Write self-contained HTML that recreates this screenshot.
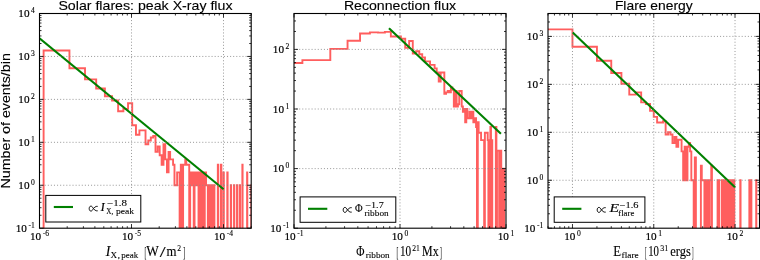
<!DOCTYPE html>
<html><head><meta charset="utf-8"><style>
html,body{margin:0;padding:0;background:#fff;width:760px;height:260px;overflow:hidden}
svg{display:block;will-change:transform}
</style></head><body>
<svg width="760" height="260" viewBox="0 0 760 260">
<rect width="760" height="260" fill="#fff"/>
<clipPath id="c1"><rect x="39.50" y="13.50" width="211.70" height="214.70"/></clipPath>
<path d="M43.61 248.20L43.61 50.51L69.44 50.51L69.44 68.28L85.01 68.28L85.01 79.40L96.18 79.40L96.18 88.52L104.90 88.52L104.90 96.29L112.05 96.29L112.05 100.53L118.12 100.53L118.12 111.22L123.38 111.22L123.38 108.91L128.03 108.91L128.03 103.31L132.20 103.31L132.20 125.23L135.97 125.23L135.97 134.76L139.42 134.76L139.42 130.35L142.59 130.35L142.59 130.35L145.53 130.35L145.53 144.28L148.27 144.28L148.27 140.54L150.83 140.54L150.83 137.43L153.24 137.43L153.24 136.05L155.51 136.05L155.51 151.85L157.66 151.85L157.66 146.48L159.69 146.48L159.69 155.25L161.63 155.25L161.63 164.77L163.48 164.77L163.48 144.28L165.25 144.28L165.25 159.41L166.95 159.41L166.95 172.33L168.57 172.33L168.57 151.85L170.13 151.85L170.13 159.41L171.63 159.41L171.63 159.41L173.08 159.41L173.08 164.77L174.48 164.77L174.48 185.26L175.83 185.26L175.83 185.26L177.13 185.26L177.13 172.33L178.40 172.33L178.40 172.33L179.62 172.33L179.62 248.20L180.81 248.20L180.81 164.77L181.97 164.77L181.97 248.20L183.09 248.20L183.09 164.77L184.18 164.77L184.18 164.77L185.25 164.77L185.25 159.41L186.28 159.41L186.28 164.77L187.29 164.77L187.29 164.77L188.27 164.77L188.27 164.77L189.23 164.77L189.23 248.20L190.17 248.20L190.17 172.33L191.09 172.33L191.09 185.26L191.98 185.26L191.98 172.33L192.86 172.33L192.86 172.33L193.72 172.33L193.72 248.20L194.56 248.20L194.56 172.33L195.38 172.33L195.38 172.33L196.19 172.33L196.19 185.26L196.97 185.26L196.97 172.33L197.75 172.33L197.75 172.33L198.51 172.33L198.51 248.20L199.25 248.20L199.25 172.33L199.99 172.33L199.99 248.20L200.70 248.20L200.70 172.33L201.41 172.33L201.41 248.20L202.10 248.20L202.10 172.33L202.79 172.33L202.79 248.20L203.46 248.20L203.46 172.33L204.12 172.33L204.12 248.20L204.76 248.20L204.76 172.33L205.40 172.33L205.40 172.33L206.03 172.33L206.03 185.26L206.65 185.26L206.65 185.26L207.26 185.26L207.26 185.26L207.86 185.26L207.86 248.20L208.45 248.20L208.45 185.26L209.03 185.26L209.03 248.20L209.61 248.20L209.61 185.26L210.17 185.26L210.17 248.20L210.73 248.20L210.73 185.26L211.28 185.26L211.28 248.20L211.82 248.20L211.82 185.26L212.36 185.26L212.36 248.20L212.89 248.20L212.89 185.26L213.41 185.26L213.41 248.20L213.92 248.20L213.92 185.26L214.43 185.26L214.43 248.20L214.93 248.20L214.93 248.20L215.43 248.20L215.43 248.20L215.92 248.20L215.92 248.20L216.40 248.20L216.40 248.20L216.88 248.20L216.88 248.20L217.35 248.20L217.35 248.20L217.82 248.20L217.82 164.77L218.28 164.77L218.28 248.20L218.74 248.20L218.74 248.20L219.19 248.20L219.19 248.20L219.63 248.20L219.63 248.20L220.08 248.20L220.08 248.20L220.51 248.20L220.51 248.20L220.94 248.20L220.94 164.77L221.37 164.77L221.37 248.20L221.79 248.20L221.79 248.20L222.21 248.20L222.21 248.20L222.62 248.20L222.62 248.20L223.03 248.20L223.03 248.20L223.44 248.20L223.44 172.33L223.84 172.33L223.84 248.20L224.24 248.20L224.24 248.20L224.63 248.20L224.63 248.20L225.02 248.20L225.02 248.20L225.41 248.20L225.41 248.20L225.79 248.20L225.79 248.20L226.17 248.20L226.17 248.20L226.54 248.20L226.54 248.20L226.91 248.20L226.91 248.20L227.28 248.20L227.28 172.33L227.64 172.33L227.64 248.20L228.01 248.20L228.01 248.20L228.36 248.20L228.36 248.20L228.72 248.20L228.72 248.20L229.07 248.20L229.07 248.20L229.42 248.20L229.42 248.20L229.76 248.20L229.76 248.20L230.11 248.20L230.11 248.20L230.45 248.20L230.45 248.20L230.78 248.20L230.78 185.26L231.12 185.26L231.12 248.20L231.45 248.20L231.45 248.20L231.78 248.20L231.78 248.20L232.10 248.20L232.10 248.20L232.43 248.20L232.43 248.20L232.75 248.20L232.75 248.20L233.07 248.20L233.07 248.20L233.38 248.20L233.38 248.20L233.69 248.20L233.69 248.20L234.01 248.20L234.01 185.26L234.31 185.26L234.31 248.20L234.62 248.20L234.62 248.20L234.92 248.20L234.92 248.20L235.22 248.20L235.22 248.20L235.52 248.20L235.52 248.20L235.82 248.20L235.82 248.20L236.11 248.20L236.11 248.20L236.41 248.20L236.41 248.20L236.70 248.20L236.70 248.20L236.99 248.20L236.99 185.26L237.27 185.26L237.27 248.20L237.56 248.20L237.56 248.20L237.84 248.20L237.84 248.20L238.12 248.20L238.12 248.20L238.40 248.20L238.40 248.20L238.67 248.20L238.67 248.20L238.95 248.20L238.95 248.20L239.22 248.20L239.22 248.20L239.49 248.20L239.49 248.20L239.76 248.20L239.76 185.26L240.03 185.26L240.03 248.20L240.29 248.20L240.29 248.20L240.56 248.20L240.56 248.20L240.82 248.20L240.82 248.20L241.08 248.20L241.08 248.20L241.34 248.20L241.34 248.20L241.59 248.20L241.59 248.20L241.85 248.20L241.85 248.20L242.10 248.20L242.10 248.20L242.35 248.20L242.35 164.77L242.60 164.77L242.60 248.20L242.85 248.20L242.85 248.20L243.10 248.20L243.10 248.20L243.35 248.20L243.35 248.20L243.59 248.20L243.59 248.20L243.83 248.20L243.83 248.20L244.07 248.20L244.07 248.20L244.31 248.20L244.31 248.20L244.55 248.20L244.55 248.20L244.79 248.20L244.79 248.20L245.02 248.20L245.02 248.20L245.26 248.20L245.26 248.20L245.49 248.20L245.49 248.20L245.72 248.20L245.72 248.20L245.95 248.20L245.95 248.20L246.18 248.20L246.18 248.20L246.41 248.20L246.41 248.20L246.64 248.20L246.64 248.20L246.86 248.20L246.86 248.20L247.08 248.20L247.08 172.33L247.31 172.33L247.31 248.20L247.53 248.20L247.53 248.20L247.75 248.20L247.75 248.20L247.97 248.20L247.97 248.20L248.18 248.20L248.18 248.20L248.40 248.20L248.40 248.20L248.62 248.20L248.62 248.20L248.83 248.20L248.83 248.20L249.04 248.20L249.04 248.20L249.26 248.20L249.26 248.20L249.47 248.20L249.47 248.20L249.68 248.20L249.68 248.20L249.88 248.20L249.88 248.20L250.09 248.20L250.09 248.20L250.30 248.20L250.30 248.20L250.50 248.20L250.50 248.20L250.71 248.20L250.71 248.20L250.91 248.20L250.91 248.20L251.11 248.20L251.11 248.20L251.31 248.20L251.31 185.26L251.51 185.26L251.51 248.20" fill="none" stroke="#ff5e5e" stroke-width="1.9" stroke-linejoin="miter" clip-path="url(#c1)"/>
<line x1="39.50" y1="38.25" x2="223.60" y2="189.20" stroke="#008000" stroke-width="2.1" clip-path="url(#c1)"/>
<path d="M131.50 13.50V228.20M223.50 13.50V228.20" stroke="#8c8c8c" stroke-width="0.9" stroke-dasharray="1 2.09" stroke-dashoffset="2.68" fill="none"/>
<path d="M39.50 185.26H251.20M39.50 142.32H251.20M39.50 99.38H251.20M39.50 56.44H251.20" stroke="#8c8c8c" stroke-width="0.9" stroke-dasharray="1 2.09" stroke-dashoffset="0.97" fill="none"/>
<path d="M39.50 228.20v-4.00M39.50 13.50v4.00M67.19 228.20v-2.00M67.19 13.50v2.00M83.40 228.20v-2.00M83.40 13.50v2.00M94.89 228.20v-2.00M94.89 13.50v2.00M103.81 228.20v-2.00M103.81 13.50v2.00M111.09 228.20v-2.00M111.09 13.50v2.00M117.25 228.20v-2.00M117.25 13.50v2.00M122.58 228.20v-2.00M122.58 13.50v2.00M127.29 228.20v-2.00M127.29 13.50v2.00M131.50 228.20v-4.00M131.50 13.50v4.00M159.19 228.20v-2.00M159.19 13.50v2.00M175.40 228.20v-2.00M175.40 13.50v2.00M186.89 228.20v-2.00M186.89 13.50v2.00M195.81 228.20v-2.00M195.81 13.50v2.00M203.09 228.20v-2.00M203.09 13.50v2.00M209.25 228.20v-2.00M209.25 13.50v2.00M214.58 228.20v-2.00M214.58 13.50v2.00M219.29 228.20v-2.00M219.29 13.50v2.00M223.50 228.20v-4.00M223.50 13.50v4.00M251.19 228.20v-2.00M251.19 13.50v2.00M39.50 228.20h4.00M251.20 228.20h-4.00M39.50 215.27h2.00M251.20 215.27h-2.00M39.50 207.71h2.00M251.20 207.71h-2.00M39.50 202.35h2.00M251.20 202.35h-2.00M39.50 198.19h2.00M251.20 198.19h-2.00M39.50 194.79h2.00M251.20 194.79h-2.00M39.50 191.91h2.00M251.20 191.91h-2.00M39.50 189.42h2.00M251.20 189.42h-2.00M39.50 187.22h2.00M251.20 187.22h-2.00M39.50 185.26h4.00M251.20 185.26h-4.00M39.50 172.33h2.00M251.20 172.33h-2.00M39.50 164.77h2.00M251.20 164.77h-2.00M39.50 159.41h2.00M251.20 159.41h-2.00M39.50 155.25h2.00M251.20 155.25h-2.00M39.50 151.85h2.00M251.20 151.85h-2.00M39.50 148.97h2.00M251.20 148.97h-2.00M39.50 146.48h2.00M251.20 146.48h-2.00M39.50 144.28h2.00M251.20 144.28h-2.00M39.50 142.32h4.00M251.20 142.32h-4.00M39.50 129.39h2.00M251.20 129.39h-2.00M39.50 121.83h2.00M251.20 121.83h-2.00M39.50 116.47h2.00M251.20 116.47h-2.00M39.50 112.31h2.00M251.20 112.31h-2.00M39.50 108.91h2.00M251.20 108.91h-2.00M39.50 106.03h2.00M251.20 106.03h-2.00M39.50 103.54h2.00M251.20 103.54h-2.00M39.50 101.34h2.00M251.20 101.34h-2.00M39.50 99.38h4.00M251.20 99.38h-4.00M39.50 86.45h2.00M251.20 86.45h-2.00M39.50 78.89h2.00M251.20 78.89h-2.00M39.50 73.53h2.00M251.20 73.53h-2.00M39.50 69.37h2.00M251.20 69.37h-2.00M39.50 65.97h2.00M251.20 65.97h-2.00M39.50 63.09h2.00M251.20 63.09h-2.00M39.50 60.60h2.00M251.20 60.60h-2.00M39.50 58.40h2.00M251.20 58.40h-2.00M39.50 56.44h4.00M251.20 56.44h-4.00M39.50 43.51h2.00M251.20 43.51h-2.00M39.50 35.95h2.00M251.20 35.95h-2.00M39.50 30.59h2.00M251.20 30.59h-2.00M39.50 26.43h2.00M251.20 26.43h-2.00M39.50 23.03h2.00M251.20 23.03h-2.00M39.50 20.15h2.00M251.20 20.15h-2.00M39.50 17.66h2.00M251.20 17.66h-2.00M39.50 15.46h2.00M251.20 15.46h-2.00M39.50 13.50h4.00M251.20 13.50h-4.00" stroke="#000" stroke-width="0.8" fill="none"/>
<rect x="39.50" y="13.50" width="211.70" height="214.70" fill="none" stroke="#000" stroke-width="1.1"/>
<clipPath id="c2"><rect x="294.00" y="13.50" width="212.00" height="214.70"/></clipPath>
<path d="M219.91 248.20L219.91 63.06L302.39 63.06L302.39 60.16L330.30 60.16L330.30 48.89L347.55 48.89L347.55 40.69L360.06 40.69L360.06 33.48L369.90 33.48L369.90 32.38L377.99 32.38L377.99 32.65L384.88 32.65L384.88 31.85L390.86 31.85L390.86 36.44L396.16 36.44L396.16 36.44L400.91 36.44L400.91 38.73L405.22 38.73L405.22 47.89L409.15 47.89L409.15 41.06L412.78 41.06L412.78 53.61L416.14 53.61L416.14 51.28L419.28 51.28L419.28 54.22L422.21 54.22L422.21 57.55L424.97 57.55L424.97 61.36L427.57 61.36L427.57 61.36L430.03 61.36L430.03 64.87L432.37 64.87L432.37 64.87L434.59 64.87L434.59 68.40L436.71 68.40L436.71 72.48L438.74 72.48L438.74 81.44L440.68 81.44L440.68 72.48L442.55 72.48L442.55 72.48L444.34 72.48L444.34 93.79L446.06 93.79L446.06 92.39L447.73 92.39L447.73 91.06L449.33 91.06L449.33 92.39L450.88 92.39L450.88 87.44L452.38 87.44L452.38 89.80L453.83 89.80L453.83 106.53L455.24 106.53L455.24 91.06L456.61 91.06L456.61 106.53L457.93 106.53L457.93 104.28L459.22 104.28L459.22 91.06L460.48 91.06L460.48 91.06L461.70 91.06L461.70 106.53L462.89 106.53L462.89 111.73L464.05 111.73L464.05 109.00L465.18 109.00L465.18 122.22L466.28 122.22L466.28 109.00L467.36 109.00L467.36 118.23L468.41 118.23L468.41 118.23L469.44 118.23L469.44 111.73L470.45 111.73L470.45 118.23L471.44 118.23L471.44 111.73L472.40 111.73L472.40 111.73L473.35 111.73L473.35 122.22L474.27 122.22L474.27 118.23L475.18 118.23L475.18 118.23L476.07 118.23L476.07 126.94L476.95 126.94L476.95 248.20L477.80 248.20L477.80 122.22L478.65 122.22L478.65 132.72L479.47 132.72L479.47 132.72L480.28 132.72L480.28 132.72L481.08 132.72L481.08 140.16L481.87 140.16L481.87 140.16L482.64 140.16L482.64 140.16L483.40 140.16L483.40 140.16L484.14 140.16L484.14 248.20L484.88 248.20L484.88 132.72L485.60 132.72L485.60 132.72L486.31 132.72L486.31 132.72L487.01 132.72L487.01 132.72L487.70 132.72L487.70 140.16L488.38 140.16L488.38 248.20L489.05 248.20L489.05 140.16L489.71 140.16L489.71 248.20L490.36 248.20L490.36 126.94L491.00 126.94L491.00 248.20L491.64 248.20L491.64 140.16L492.26 140.16L492.26 248.20L492.88 248.20L492.88 248.20L493.49 248.20L493.49 248.20L494.09 248.20L494.09 248.20L494.68 248.20L494.68 248.20L495.26 248.20L495.26 248.20L495.84 248.20L495.84 126.94L496.41 126.94L496.41 248.20L496.98 248.20L496.98 150.66L497.53 150.66L497.53 150.66L498.08 150.66L498.08 150.66L498.63 150.66L498.63 150.66L499.16 150.66L499.16 248.20L499.69 248.20L499.69 150.66L500.22 150.66L500.22 248.20L500.74 248.20L500.74 150.66L501.25 150.66L501.25 248.20L501.76 248.20L501.76 168.60L502.26 168.60L502.26 248.20L502.76 248.20L502.76 168.60L503.25 168.60L503.25 248.20L503.74 248.20L503.74 168.60L504.22 168.60L504.22 248.20L504.69 248.20L504.69 248.20L505.16 248.20L505.16 248.20L505.63 248.20L505.63 248.20L506.09 248.20L506.09 248.20" fill="none" stroke="#ff5e5e" stroke-width="1.9" stroke-linejoin="miter" clip-path="url(#c2)"/>
<line x1="389.00" y1="28.30" x2="500.90" y2="133.80" stroke="#008000" stroke-width="2.1" clip-path="url(#c2)"/>
<path d="M400.00 13.50V228.20" stroke="#8c8c8c" stroke-width="0.9" stroke-dasharray="1 2.09" stroke-dashoffset="2.68" fill="none"/>
<path d="M294.00 168.60H506.00M294.00 109.00H506.00M294.00 49.40H506.00" stroke="#8c8c8c" stroke-width="0.9" stroke-dasharray="1 2.09" stroke-dashoffset="0.97" fill="none"/>
<path d="M294.00 228.20v-4.00M294.00 13.50v4.00M294.00 228.20h4.00M506.00 228.20h-4.00M325.91 228.20v-2.00M325.91 13.50v2.00M294.00 210.26h2.00M506.00 210.26h-2.00M344.57 228.20v-2.00M344.57 13.50v2.00M294.00 199.76h2.00M506.00 199.76h-2.00M357.82 228.20v-2.00M357.82 13.50v2.00M294.00 192.32h2.00M506.00 192.32h-2.00M368.09 228.20v-2.00M368.09 13.50v2.00M294.00 186.54h2.00M506.00 186.54h-2.00M376.48 228.20v-2.00M376.48 13.50v2.00M294.00 181.82h2.00M506.00 181.82h-2.00M383.58 228.20v-2.00M383.58 13.50v2.00M294.00 177.83h2.00M506.00 177.83h-2.00M389.73 228.20v-2.00M389.73 13.50v2.00M294.00 174.38h2.00M506.00 174.38h-2.00M395.15 228.20v-2.00M395.15 13.50v2.00M294.00 171.33h2.00M506.00 171.33h-2.00M400.00 228.20v-4.00M400.00 13.50v4.00M294.00 168.60h4.00M506.00 168.60h-4.00M431.91 228.20v-2.00M431.91 13.50v2.00M294.00 150.66h2.00M506.00 150.66h-2.00M450.57 228.20v-2.00M450.57 13.50v2.00M294.00 140.16h2.00M506.00 140.16h-2.00M463.82 228.20v-2.00M463.82 13.50v2.00M294.00 132.72h2.00M506.00 132.72h-2.00M474.09 228.20v-2.00M474.09 13.50v2.00M294.00 126.94h2.00M506.00 126.94h-2.00M482.48 228.20v-2.00M482.48 13.50v2.00M294.00 122.22h2.00M506.00 122.22h-2.00M489.58 228.20v-2.00M489.58 13.50v2.00M294.00 118.23h2.00M506.00 118.23h-2.00M495.73 228.20v-2.00M495.73 13.50v2.00M294.00 114.78h2.00M506.00 114.78h-2.00M501.15 228.20v-2.00M501.15 13.50v2.00M294.00 111.73h2.00M506.00 111.73h-2.00M506.00 228.20v-4.00M506.00 13.50v4.00M294.00 109.00h4.00M506.00 109.00h-4.00M294.00 91.06h2.00M506.00 91.06h-2.00M294.00 80.56h2.00M506.00 80.56h-2.00M294.00 73.12h2.00M506.00 73.12h-2.00M294.00 67.34h2.00M506.00 67.34h-2.00M294.00 62.62h2.00M506.00 62.62h-2.00M294.00 58.63h2.00M506.00 58.63h-2.00M294.00 55.18h2.00M506.00 55.18h-2.00M294.00 52.13h2.00M506.00 52.13h-2.00M294.00 49.40h4.00M506.00 49.40h-4.00M294.00 31.46h2.00M506.00 31.46h-2.00M294.00 20.96h2.00M506.00 20.96h-2.00M294.00 13.52h2.00M506.00 13.52h-2.00" stroke="#000" stroke-width="0.8" fill="none"/>
<rect x="294.00" y="13.50" width="212.00" height="214.70" fill="none" stroke="#000" stroke-width="1.1"/>
<clipPath id="c3"><rect x="548.00" y="13.50" width="211.50" height="214.70"/></clipPath>
<path d="M328.62 248.20L328.62 29.39L572.47 29.39L572.47 46.69L596.94 46.69L596.94 60.79L611.25 60.79L611.25 73.06L621.40 73.06L621.40 83.73L629.28 83.73L629.28 94.64L635.72 94.64L635.72 92.38L641.16 92.38L641.16 102.42L645.87 102.42L645.87 103.96L650.03 103.96L650.03 110.86L653.75 110.86L653.75 116.85L657.11 116.85L657.11 122.51L660.19 122.51L660.19 122.51L663.01 122.51L663.01 121.25L665.63 121.25L665.63 134.49L668.06 134.49L668.06 132.30L670.34 132.30L670.34 134.49L672.48 134.49L672.48 142.94L674.50 142.94L674.50 136.95L676.41 136.95L676.41 146.73L678.22 146.73L678.22 139.73L679.94 139.73L679.94 139.73L681.58 139.73L681.58 151.38L683.15 151.38L683.15 180.25L684.65 180.25L684.65 146.73L686.10 146.73L686.10 180.25L687.48 180.25L687.48 146.73L688.81 146.73L688.81 142.94L690.10 142.94L690.10 151.38L691.33 151.38L691.33 180.25L692.53 180.25L692.53 180.25L693.69 180.25L693.69 248.20L694.81 248.20L694.81 157.37L695.90 157.37L695.90 248.20L696.95 248.20L696.95 248.20L697.97 248.20L697.97 248.20L698.97 248.20L698.97 248.20L699.93 248.20L699.93 248.20L700.88 248.20L700.88 165.82L701.79 165.82L701.79 180.25L702.69 180.25L702.69 180.25L703.56 180.25L703.56 180.25L704.41 180.25L704.41 248.20L705.24 248.20L705.24 180.25L706.05 180.25L706.05 248.20L706.84 248.20L706.84 180.25L707.62 180.25L707.62 248.20L708.38 248.20L708.38 180.25L709.12 180.25L709.12 248.20L709.85 248.20L709.85 180.25L710.56 180.25L710.56 180.25L711.26 180.25L711.26 165.82L711.95 165.82L711.95 248.20L712.62 248.20L712.62 248.20L713.28 248.20L713.28 248.20L713.93 248.20L713.93 248.20L714.56 248.20L714.56 248.20L715.19 248.20L715.19 248.20L715.80 248.20L715.80 248.20L716.41 248.20L716.41 248.20L717.00 248.20L717.00 248.20L717.58 248.20L717.58 180.25L718.16 180.25L718.16 180.25L718.72 180.25L718.72 180.25L719.28 180.25L719.28 248.20L719.83 248.20L719.83 248.20L720.36 248.20L720.36 248.20L720.89 248.20L720.89 248.20L721.42 248.20L721.42 248.20L721.93 248.20L721.93 180.25L722.44 180.25L722.44 248.20L722.94 248.20L722.94 180.25L723.44 180.25L723.44 248.20L723.92 248.20L723.92 180.25L724.40 180.25L724.40 248.20L724.88 248.20L724.88 180.25L725.34 180.25L725.34 248.20L725.81 248.20L725.81 180.25L726.26 180.25L726.26 248.20L726.71 248.20L726.71 180.25L727.15 180.25L727.15 248.20L727.59 248.20L727.59 180.25L728.03 180.25L728.03 248.20L728.45 248.20L728.45 180.25L728.88 180.25L728.88 248.20L729.29 248.20L729.29 180.25L729.71 180.25L729.71 248.20L730.12 248.20L730.12 180.25L730.52 180.25L730.52 248.20L730.92 248.20L730.92 180.25L731.31 180.25L731.31 248.20L731.70 248.20L731.70 180.25L732.09 180.25L732.09 248.20L732.47 248.20L732.47 180.25L732.85 180.25L732.85 248.20L733.22 248.20L733.22 180.25L733.59 180.25L733.59 248.20L733.96 248.20L733.96 180.25L734.32 180.25L734.32 248.20L734.68 248.20L734.68 248.20L735.03 248.20L735.03 248.20L735.38 248.20L735.38 248.20L735.73 248.20L735.73 248.20L736.08 248.20L736.08 248.20L736.42 248.20L736.42 248.20L736.75 248.20L736.75 248.20L737.09 248.20L737.09 248.20L737.42 248.20L737.42 248.20L737.75 248.20L737.75 248.20L738.07 248.20L738.07 248.20L738.40 248.20L738.40 248.20L738.72 248.20L738.72 248.20L739.03 248.20L739.03 248.20L739.35 248.20L739.35 248.20L739.66 248.20L739.66 248.20L739.97 248.20L739.97 248.20L740.27 248.20L740.27 180.25L740.57 180.25L740.57 248.20L740.87 248.20L740.87 248.20L741.17 248.20L741.17 248.20L741.47 248.20L741.47 248.20L741.76 248.20L741.76 248.20L742.05 248.20L742.05 248.20L742.34 248.20L742.34 248.20L742.63 248.20L742.63 248.20L742.91 248.20L742.91 248.20L743.19 248.20L743.19 248.20L743.47 248.20L743.47 248.20L743.75 248.20L743.75 248.20L744.02 248.20L744.02 248.20L744.29 248.20L744.29 248.20L744.56 248.20L744.56 248.20L744.83 248.20L744.83 248.20L745.10 248.20L745.10 248.20L745.36 248.20L745.36 248.20L745.63 248.20L745.63 248.20L745.89 248.20L745.89 248.20L746.14 248.20L746.14 248.20L746.40 248.20L746.40 248.20L746.66 248.20L746.66 248.20L746.91 248.20L746.91 248.20L747.16 248.20L747.16 248.20L747.41 248.20L747.41 248.20L747.66 248.20L747.66 248.20L747.90 248.20L747.90 248.20L748.15 248.20L748.15 248.20L748.39 248.20L748.39 248.20L748.63 248.20L748.63 248.20L748.87 248.20L748.87 248.20L749.11 248.20L749.11 248.20L749.34 248.20L749.34 180.25L749.58 180.25L749.58 248.20L749.81 248.20L749.81 248.20L750.04 248.20L750.04 248.20L750.27 248.20L750.27 248.20L750.50 248.20L750.50 248.20L750.73 248.20L750.73 248.20L750.95 248.20L750.95 248.20L751.18 248.20L751.18 180.25L751.40 180.25L751.40 248.20L751.62 248.20L751.62 248.20L751.84 248.20L751.84 248.20L752.06 248.20L752.06 248.20L752.28 248.20L752.28 248.20L752.49 248.20L752.49 248.20L752.71 248.20L752.71 248.20L752.92 248.20L752.92 248.20L753.13 248.20L753.13 248.20L753.35 248.20L753.35 248.20L753.55 248.20L753.55 248.20L753.76 248.20L753.76 248.20L753.97 248.20L753.97 248.20L754.18 248.20L754.18 248.20L754.38 248.20L754.38 248.20L754.58 248.20L754.58 248.20L754.79 248.20L754.79 248.20L754.99 248.20L754.99 248.20L755.19 248.20L755.19 248.20L755.39 248.20L755.39 248.20L755.58 248.20L755.58 248.20L755.78 248.20L755.78 248.20L755.98 248.20L755.98 248.20L756.17 248.20L756.17 180.25L756.36 180.25L756.36 248.20L756.56 248.20L756.56 248.20L756.75 248.20L756.75 248.20L756.94 248.20L756.94 248.20L757.13 248.20L757.13 248.20L757.32 248.20L757.32 248.20L757.50 248.20L757.50 248.20L757.69 248.20L757.69 248.20L757.87 248.20L757.87 248.20L758.06 248.20L758.06 248.20L758.24 248.20L758.24 248.20L758.42 248.20L758.42 248.20L758.61 248.20L758.61 248.20L758.79 248.20L758.79 248.20L758.97 248.20L758.97 248.20L759.15 248.20L759.15 248.20L759.32 248.20L759.32 248.20L759.50 248.20L759.50 248.20" fill="none" stroke="#ff5e5e" stroke-width="1.9" stroke-linejoin="miter" clip-path="url(#c3)"/>
<line x1="572.70" y1="32.40" x2="735.20" y2="187.40" stroke="#008000" stroke-width="2.1" clip-path="url(#c3)"/>
<path d="M572.47 13.50V228.20M653.75 13.50V228.20M735.03 13.50V228.20" stroke="#8c8c8c" stroke-width="0.9" stroke-dasharray="1 2.09" stroke-dashoffset="2.68" fill="none"/>
<path d="M548.00 180.25H759.50M548.00 132.30H759.50M548.00 84.35H759.50M548.00 36.40H759.50" stroke="#8c8c8c" stroke-width="0.9" stroke-dasharray="1 2.09" stroke-dashoffset="0.97" fill="none"/>
<path d="M548.00 228.20h4.00M759.50 228.20h-4.00M548.00 213.77h2.00M759.50 213.77h-2.00M548.00 205.32h2.00M759.50 205.32h-2.00M548.00 199.33h2.00M759.50 199.33h-2.00M548.00 228.20v-2.00M548.00 13.50v2.00M548.00 194.68h2.00M759.50 194.68h-2.00M554.44 228.20v-2.00M554.44 13.50v2.00M548.00 190.89h2.00M759.50 190.89h-2.00M559.88 228.20v-2.00M559.88 13.50v2.00M548.00 187.68h2.00M759.50 187.68h-2.00M564.59 228.20v-2.00M564.59 13.50v2.00M548.00 184.90h2.00M759.50 184.90h-2.00M568.75 228.20v-2.00M568.75 13.50v2.00M548.00 182.44h2.00M759.50 182.44h-2.00M572.47 228.20v-4.00M572.47 13.50v4.00M548.00 180.25h4.00M759.50 180.25h-4.00M596.94 228.20v-2.00M596.94 13.50v2.00M548.00 165.82h2.00M759.50 165.82h-2.00M611.25 228.20v-2.00M611.25 13.50v2.00M548.00 157.37h2.00M759.50 157.37h-2.00M621.40 228.20v-2.00M621.40 13.50v2.00M548.00 151.38h2.00M759.50 151.38h-2.00M629.28 228.20v-2.00M629.28 13.50v2.00M548.00 146.73h2.00M759.50 146.73h-2.00M635.72 228.20v-2.00M635.72 13.50v2.00M548.00 142.94h2.00M759.50 142.94h-2.00M641.16 228.20v-2.00M641.16 13.50v2.00M548.00 139.73h2.00M759.50 139.73h-2.00M645.87 228.20v-2.00M645.87 13.50v2.00M548.00 136.95h2.00M759.50 136.95h-2.00M650.03 228.20v-2.00M650.03 13.50v2.00M548.00 134.49h2.00M759.50 134.49h-2.00M653.75 228.20v-4.00M653.75 13.50v4.00M548.00 132.30h4.00M759.50 132.30h-4.00M678.22 228.20v-2.00M678.22 13.50v2.00M548.00 117.87h2.00M759.50 117.87h-2.00M692.53 228.20v-2.00M692.53 13.50v2.00M548.00 109.42h2.00M759.50 109.42h-2.00M702.69 228.20v-2.00M702.69 13.50v2.00M548.00 103.43h2.00M759.50 103.43h-2.00M710.56 228.20v-2.00M710.56 13.50v2.00M548.00 98.78h2.00M759.50 98.78h-2.00M717.00 228.20v-2.00M717.00 13.50v2.00M548.00 94.99h2.00M759.50 94.99h-2.00M722.44 228.20v-2.00M722.44 13.50v2.00M548.00 91.78h2.00M759.50 91.78h-2.00M727.15 228.20v-2.00M727.15 13.50v2.00M548.00 89.00h2.00M759.50 89.00h-2.00M731.31 228.20v-2.00M731.31 13.50v2.00M548.00 86.54h2.00M759.50 86.54h-2.00M735.03 228.20v-4.00M735.03 13.50v4.00M548.00 84.35h4.00M759.50 84.35h-4.00M759.50 228.20v-2.00M759.50 13.50v2.00M548.00 69.92h2.00M759.50 69.92h-2.00M548.00 61.47h2.00M759.50 61.47h-2.00M548.00 55.48h2.00M759.50 55.48h-2.00M548.00 50.83h2.00M759.50 50.83h-2.00M548.00 47.04h2.00M759.50 47.04h-2.00M548.00 43.83h2.00M759.50 43.83h-2.00M548.00 41.05h2.00M759.50 41.05h-2.00M548.00 38.59h2.00M759.50 38.59h-2.00M548.00 36.40h4.00M759.50 36.40h-4.00M548.00 21.97h2.00M759.50 21.97h-2.00M548.00 13.52h2.00M759.50 13.52h-2.00" stroke="#000" stroke-width="0.8" fill="none"/>
<rect x="548.00" y="13.50" width="211.50" height="214.70" fill="none" stroke="#000" stroke-width="1.1"/>
<rect x="45.80" y="195.40" width="95.00" height="26.60" fill="#fff" stroke="#000" stroke-width="1.0"/>
<line x1="53.80" y1="207.00" x2="73.00" y2="207.00" stroke="#008000" stroke-width="2.1"/>
<path d="M97.70 206.37C95.58 206.00 94.30 207.67 93.45 208.60C92.60 209.84 92.17 211.08 90.90 211.08C89.71 211.08 89.20 209.84 89.20 208.60C89.20 207.36 89.71 206.12 90.90 206.12C92.17 206.12 92.60 207.36 93.45 208.60C94.30 209.53 95.58 211.20 97.70 210.83" fill="none" stroke="#000" stroke-width="0.95"/>
<text transform="translate(100.86 211.30) scale(1.0135 1)" style="font-family:'Liberation Serif';font-style:italic;font-size:11.50px" fill="#000" stroke="#000" stroke-width="0.25">I</text>
<text transform="translate(107.00 206.30) scale(1.4057 1)" style="font-family:'Liberation Serif';font-style:normal;font-size:7.80px" fill="#000" stroke="#000" stroke-width="0.1">−1.8</text>
<text transform="translate(106.30 214.30) scale(0.7824 1)" style="font-family:'Liberation Serif';font-style:normal;font-size:9.20px" fill="#000" stroke="#000" stroke-width="0.1">X,</text>
<text transform="translate(115.90 214.30) scale(1.0481 1)" style="font-family:'Liberation Serif';font-style:normal;font-size:9.20px" fill="#000" stroke="#000" stroke-width="0.1">peak</text>
<rect x="300.10" y="196.90" width="95.70" height="25.40" fill="#fff" stroke="#000" stroke-width="1.0"/>
<line x1="308.00" y1="208.80" x2="327.30" y2="208.80" stroke="#008000" stroke-width="2.1"/>
<path d="M351.70 207.67C349.57 207.30 348.30 208.97 347.45 209.90C346.60 211.14 346.18 212.38 344.90 212.38C343.71 212.38 343.20 211.14 343.20 209.90C343.20 208.66 343.71 207.42 344.90 207.42C346.18 207.42 346.60 208.66 347.45 209.90C348.30 210.83 349.57 212.50 351.70 212.13" fill="none" stroke="#000" stroke-width="0.95"/>
<text transform="translate(355.00 212.40) scale(0.9053 1)" style="font-family:'Liberation Serif';font-style:normal;font-size:11.50px" fill="#000" stroke="#000" stroke-width="0.15">Φ</text>
<text transform="translate(365.20 208.30) scale(1.3138 1)" style="font-family:'Liberation Serif';font-style:normal;font-size:7.80px" fill="#000" stroke="#000" stroke-width="0.1">−1.7</text>
<text transform="translate(364.40 215.60) scale(1.0580 1)" style="font-family:'Liberation Serif';font-style:normal;font-size:8.80px" fill="#000" stroke="#000" stroke-width="0.1">ribbon</text>
<rect x="554.20" y="196.90" width="90.70" height="25.40" fill="#fff" stroke="#000" stroke-width="1.0"/>
<line x1="562.20" y1="208.80" x2="581.40" y2="208.80" stroke="#008000" stroke-width="2.1"/>
<path d="M605.70 207.67C603.58 207.30 602.30 208.97 601.45 209.90C600.60 211.14 600.18 212.38 598.90 212.38C597.71 212.38 597.20 211.14 597.20 209.90C597.20 208.66 597.71 207.42 598.90 207.42C600.18 207.42 600.60 208.66 601.45 209.90C602.30 210.83 603.58 212.50 605.70 212.13" fill="none" stroke="#000" stroke-width="0.95"/>
<text transform="translate(609.50 212.40) scale(1.3690 1)" style="font-family:'Liberation Serif';font-style:italic;font-size:11.50px" fill="#000" stroke="#000" stroke-width="0.15">E</text>
<text transform="translate(619.60 207.90) scale(1.3350 1)" style="font-family:'Liberation Serif';font-style:normal;font-size:7.80px" fill="#000" stroke="#000" stroke-width="0.1">−1.6</text>
<text transform="translate(618.30 215.60) scale(0.9922 1)" style="font-family:'Liberation Serif';font-style:normal;font-size:8.80px" fill="#000" stroke="#000" stroke-width="0.1">flare</text>
<text x="15.77" y="231.80" style="font-family:'Liberation Serif';font-style:normal;font-size:11.20px" fill="#000" stroke="#000" stroke-width="0.18">10</text>
<text x="28.47" y="227.90" style="font-family:'Liberation Serif';font-style:normal;font-size:7.60px" fill="#000" stroke="#000" stroke-width="0.12">-1</text>
<text x="18.30" y="188.86" style="font-family:'Liberation Serif';font-style:normal;font-size:11.20px" fill="#000" stroke="#000" stroke-width="0.18">10</text>
<text x="31.00" y="184.96" style="font-family:'Liberation Serif';font-style:normal;font-size:7.60px" fill="#000" stroke="#000" stroke-width="0.12">0</text>
<text x="18.30" y="145.92" style="font-family:'Liberation Serif';font-style:normal;font-size:11.20px" fill="#000" stroke="#000" stroke-width="0.18">10</text>
<text x="31.00" y="142.02" style="font-family:'Liberation Serif';font-style:normal;font-size:7.60px" fill="#000" stroke="#000" stroke-width="0.12">1</text>
<text x="18.30" y="102.98" style="font-family:'Liberation Serif';font-style:normal;font-size:11.20px" fill="#000" stroke="#000" stroke-width="0.18">10</text>
<text x="31.00" y="99.08" style="font-family:'Liberation Serif';font-style:normal;font-size:7.60px" fill="#000" stroke="#000" stroke-width="0.12">2</text>
<text x="18.30" y="60.04" style="font-family:'Liberation Serif';font-style:normal;font-size:11.20px" fill="#000" stroke="#000" stroke-width="0.18">10</text>
<text x="31.00" y="56.14" style="font-family:'Liberation Serif';font-style:normal;font-size:7.60px" fill="#000" stroke="#000" stroke-width="0.12">3</text>
<text x="18.30" y="17.10" style="font-family:'Liberation Serif';font-style:normal;font-size:11.20px" fill="#000" stroke="#000" stroke-width="0.18">10</text>
<text x="31.00" y="13.20" style="font-family:'Liberation Serif';font-style:normal;font-size:7.60px" fill="#000" stroke="#000" stroke-width="0.12">4</text>
<text x="29.99" y="239.70" style="font-family:'Liberation Serif';font-style:normal;font-size:11.20px" fill="#000" stroke="#000" stroke-width="0.18">10</text>
<text x="42.69" y="235.80" style="font-family:'Liberation Serif';font-style:normal;font-size:7.60px" fill="#000" stroke="#000" stroke-width="0.12">-6</text>
<text x="121.99" y="239.70" style="font-family:'Liberation Serif';font-style:normal;font-size:11.20px" fill="#000" stroke="#000" stroke-width="0.18">10</text>
<text x="134.69" y="235.80" style="font-family:'Liberation Serif';font-style:normal;font-size:7.60px" fill="#000" stroke="#000" stroke-width="0.12">-5</text>
<text x="213.99" y="239.70" style="font-family:'Liberation Serif';font-style:normal;font-size:11.20px" fill="#000" stroke="#000" stroke-width="0.18">10</text>
<text x="226.69" y="235.80" style="font-family:'Liberation Serif';font-style:normal;font-size:7.60px" fill="#000" stroke="#000" stroke-width="0.12">-4</text>
<text x="270.27" y="231.80" style="font-family:'Liberation Serif';font-style:normal;font-size:11.20px" fill="#000" stroke="#000" stroke-width="0.18">10</text>
<text x="282.97" y="227.90" style="font-family:'Liberation Serif';font-style:normal;font-size:7.60px" fill="#000" stroke="#000" stroke-width="0.12">-1</text>
<text x="272.80" y="172.20" style="font-family:'Liberation Serif';font-style:normal;font-size:11.20px" fill="#000" stroke="#000" stroke-width="0.18">10</text>
<text x="285.50" y="168.30" style="font-family:'Liberation Serif';font-style:normal;font-size:7.60px" fill="#000" stroke="#000" stroke-width="0.12">0</text>
<text x="272.80" y="112.60" style="font-family:'Liberation Serif';font-style:normal;font-size:11.20px" fill="#000" stroke="#000" stroke-width="0.18">10</text>
<text x="285.50" y="108.70" style="font-family:'Liberation Serif';font-style:normal;font-size:7.60px" fill="#000" stroke="#000" stroke-width="0.12">1</text>
<text x="272.80" y="53.00" style="font-family:'Liberation Serif';font-style:normal;font-size:11.20px" fill="#000" stroke="#000" stroke-width="0.18">10</text>
<text x="285.50" y="49.10" style="font-family:'Liberation Serif';font-style:normal;font-size:7.60px" fill="#000" stroke="#000" stroke-width="0.12">2</text>
<text x="284.49" y="239.70" style="font-family:'Liberation Serif';font-style:normal;font-size:11.20px" fill="#000" stroke="#000" stroke-width="0.18">10</text>
<text x="297.19" y="235.80" style="font-family:'Liberation Serif';font-style:normal;font-size:7.60px" fill="#000" stroke="#000" stroke-width="0.12">-1</text>
<text x="391.75" y="239.70" style="font-family:'Liberation Serif';font-style:normal;font-size:11.20px" fill="#000" stroke="#000" stroke-width="0.18">10</text>
<text x="404.45" y="235.80" style="font-family:'Liberation Serif';font-style:normal;font-size:7.60px" fill="#000" stroke="#000" stroke-width="0.12">0</text>
<text x="497.75" y="239.70" style="font-family:'Liberation Serif';font-style:normal;font-size:11.20px" fill="#000" stroke="#000" stroke-width="0.18">10</text>
<text x="510.45" y="235.80" style="font-family:'Liberation Serif';font-style:normal;font-size:7.60px" fill="#000" stroke="#000" stroke-width="0.12">1</text>
<text x="524.27" y="231.80" style="font-family:'Liberation Serif';font-style:normal;font-size:11.20px" fill="#000" stroke="#000" stroke-width="0.18">10</text>
<text x="536.97" y="227.90" style="font-family:'Liberation Serif';font-style:normal;font-size:7.60px" fill="#000" stroke="#000" stroke-width="0.12">-1</text>
<text x="526.80" y="183.85" style="font-family:'Liberation Serif';font-style:normal;font-size:11.20px" fill="#000" stroke="#000" stroke-width="0.18">10</text>
<text x="539.50" y="179.95" style="font-family:'Liberation Serif';font-style:normal;font-size:7.60px" fill="#000" stroke="#000" stroke-width="0.12">0</text>
<text x="526.80" y="135.90" style="font-family:'Liberation Serif';font-style:normal;font-size:11.20px" fill="#000" stroke="#000" stroke-width="0.18">10</text>
<text x="539.50" y="132.00" style="font-family:'Liberation Serif';font-style:normal;font-size:7.60px" fill="#000" stroke="#000" stroke-width="0.12">1</text>
<text x="526.80" y="87.95" style="font-family:'Liberation Serif';font-style:normal;font-size:11.20px" fill="#000" stroke="#000" stroke-width="0.18">10</text>
<text x="539.50" y="84.05" style="font-family:'Liberation Serif';font-style:normal;font-size:7.60px" fill="#000" stroke="#000" stroke-width="0.12">2</text>
<text x="526.80" y="40.00" style="font-family:'Liberation Serif';font-style:normal;font-size:11.20px" fill="#000" stroke="#000" stroke-width="0.18">10</text>
<text x="539.50" y="36.10" style="font-family:'Liberation Serif';font-style:normal;font-size:7.60px" fill="#000" stroke="#000" stroke-width="0.12">3</text>
<text x="564.22" y="239.70" style="font-family:'Liberation Serif';font-style:normal;font-size:11.20px" fill="#000" stroke="#000" stroke-width="0.18">10</text>
<text x="576.92" y="235.80" style="font-family:'Liberation Serif';font-style:normal;font-size:7.60px" fill="#000" stroke="#000" stroke-width="0.12">0</text>
<text x="645.50" y="239.70" style="font-family:'Liberation Serif';font-style:normal;font-size:11.20px" fill="#000" stroke="#000" stroke-width="0.18">10</text>
<text x="658.20" y="235.80" style="font-family:'Liberation Serif';font-style:normal;font-size:7.60px" fill="#000" stroke="#000" stroke-width="0.12">1</text>
<text x="726.78" y="239.70" style="font-family:'Liberation Serif';font-style:normal;font-size:11.20px" fill="#000" stroke="#000" stroke-width="0.18">10</text>
<text x="739.48" y="235.80" style="font-family:'Liberation Serif';font-style:normal;font-size:7.60px" fill="#000" stroke="#000" stroke-width="0.12">2</text>
<text transform="translate(58.40 9.50) scale(1.0751 1)" style="font-family:'Liberation Sans';font-style:normal;font-size:13.20px" fill="#000" stroke="#000" stroke-width="0.12">Solar flares: peak X-ray flux</text>
<text transform="translate(343.90 9.50) scale(1.0701 1)" style="font-family:'Liberation Sans';font-style:normal;font-size:13.20px" fill="#000" stroke="#000" stroke-width="0.12">Reconnection flux</text>
<text transform="translate(614.90 9.50) scale(1.0510 1)" style="font-family:'Liberation Sans';font-style:normal;font-size:13.20px" fill="#000" stroke="#000" stroke-width="0.12">Flare energy</text>
<g transform="translate(10.0 188.5) rotate(-90)">
<text transform="translate(-0.00 0) scale(1.0800 1)" style="font-family:'Liberation Sans';font-size:13.2px" fill="#000" stroke="#000" stroke-width="0.12">Number of events/bin</text>
</g>
<text transform="translate(105.67 256.00) scale(1.0055 1)" style="font-family:'Liberation Serif';font-style:italic;font-size:13.70px" fill="#000" stroke="#000" stroke-width="0.12">I</text>
<text transform="translate(110.60 258.30) scale(1.0150 1)" style="font-family:'Liberation Serif';font-style:normal;font-size:9.00px" fill="#000" stroke="#000" stroke-width="0.1">X</text>
<text x="117.70" y="258.30" style="font-family:'Liberation Serif';font-style:normal;font-size:9.00px" fill="#000" stroke="#000" stroke-width="0.1">,</text>
<text x="121.20" y="258.30" style="font-family:'Liberation Serif';font-style:normal;font-size:9.00px" fill="#000" stroke="#000" stroke-width="0.1">peak</text>
<text transform="translate(144.60 256.50) scale(0.3951 1)" style="font-family:'Liberation Serif';font-style:normal;font-size:13.70px" fill="#000" stroke="#000" stroke-width="0.12">[</text>
<text transform="translate(146.30 256.00) scale(0.9732 1)" style="font-family:'Liberation Serif';font-style:normal;font-size:13.70px" fill="#000" stroke="#000" stroke-width="0.12">W</text>
<text transform="translate(159.80 256.50) scale(1.5381 1)" style="font-family:'Liberation Serif';font-style:normal;font-size:13.70px" fill="#000" stroke="#000" stroke-width="0.12">/</text>
<text transform="translate(166.50 256.00) scale(0.9388 1)" style="font-family:'Liberation Serif';font-style:normal;font-size:13.70px" fill="#000" stroke="#000" stroke-width="0.12">m</text>
<text transform="translate(177.30 251.20) scale(0.8444 1)" style="font-family:'Liberation Serif';font-style:normal;font-size:9.00px" fill="#000" stroke="#000" stroke-width="0.1">2</text>
<text transform="translate(183.20 256.50) scale(0.4171 1)" style="font-family:'Liberation Serif';font-style:normal;font-size:13.70px" fill="#000" stroke="#000" stroke-width="0.12">]</text>
<text transform="translate(356.30 256.00) scale(0.8199 1)" style="font-family:'Liberation Serif';font-style:normal;font-size:13.70px" fill="#000" stroke="#000" stroke-width="0.12">Φ</text>
<text transform="translate(365.70 258.30) scale(1.0217 1)" style="font-family:'Liberation Serif';font-style:normal;font-size:9.00px" fill="#000" stroke="#000" stroke-width="0.1">ribbon</text>
<text transform="translate(396.50 256.50) scale(0.3951 1)" style="font-family:'Liberation Serif';font-style:normal;font-size:13.70px" fill="#000" stroke="#000" stroke-width="0.12">[</text>
<text transform="translate(400.00 256.00) scale(0.8175 1)" style="font-family:'Liberation Serif';font-style:normal;font-size:13.70px" fill="#000" stroke="#000" stroke-width="0.12">10</text>
<text transform="translate(412.20 251.20) scale(0.8444 1)" style="font-family:'Liberation Serif';font-style:normal;font-size:9.00px" fill="#000" stroke="#000" stroke-width="0.1">21</text>
<text transform="translate(422.10 256.00) scale(0.8717 1)" style="font-family:'Liberation Serif';font-style:normal;font-size:13.70px" fill="#000" stroke="#000" stroke-width="0.12">Mx</text>
<text transform="translate(439.90 256.50) scale(0.3951 1)" style="font-family:'Liberation Serif';font-style:normal;font-size:13.70px" fill="#000" stroke="#000" stroke-width="0.12">]</text>
<text transform="translate(613.20 256.00) scale(0.9333 1)" style="font-family:'Liberation Serif';font-style:normal;font-size:13.70px" fill="#000" stroke="#000" stroke-width="0.12">E</text>
<text transform="translate(621.60 258.30) scale(1.0368 1)" style="font-family:'Liberation Serif';font-style:normal;font-size:9.00px" fill="#000" stroke="#000" stroke-width="0.1">flare</text>
<text transform="translate(645.00 256.50) scale(0.3512 1)" style="font-family:'Liberation Serif';font-style:normal;font-size:13.70px" fill="#000" stroke="#000" stroke-width="0.12">[</text>
<text transform="translate(648.20 256.00) scale(0.7883 1)" style="font-family:'Liberation Serif';font-style:normal;font-size:13.70px" fill="#000" stroke="#000" stroke-width="0.12">10</text>
<text transform="translate(660.20 251.20) scale(0.8889 1)" style="font-family:'Liberation Serif';font-style:normal;font-size:9.00px" fill="#000" stroke="#000" stroke-width="0.1">31</text>
<text transform="translate(670.20 256.00) scale(0.9127 1)" style="font-family:'Liberation Serif';font-style:normal;font-size:13.70px" fill="#000" stroke="#000" stroke-width="0.12">ergs</text>
<text transform="translate(692.00 256.50) scale(0.3293 1)" style="font-family:'Liberation Serif';font-style:normal;font-size:13.70px" fill="#000" stroke="#000" stroke-width="0.12">]</text>
</svg>
</body></html>
